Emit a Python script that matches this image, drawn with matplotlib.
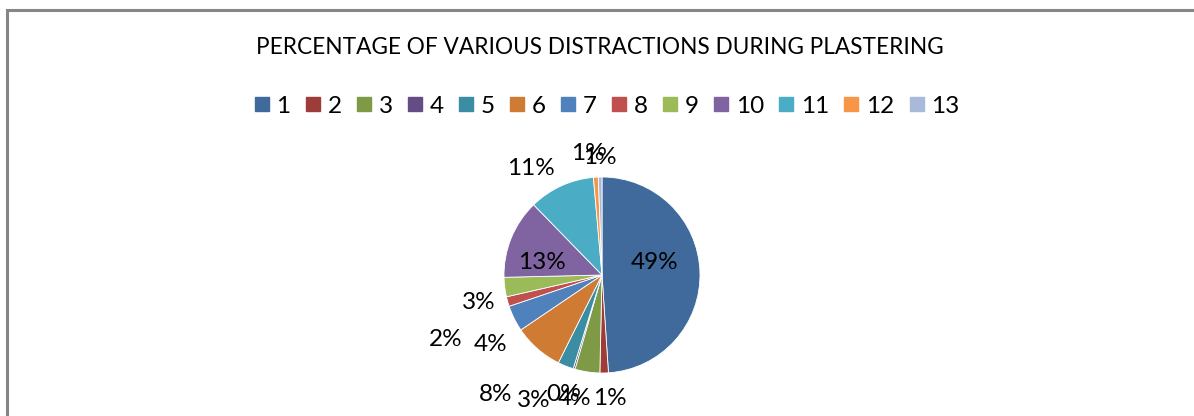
import matplotlib
matplotlib.use("Agg")
import matplotlib.pyplot as plt
from matplotlib.patches import Rectangle
from matplotlib.lines import Line2D

# ---- data ----
categories = ["1", "2", "3", "4", "5", "6", "7", "8", "9", "10", "11", "12", "13"]
values = [49.0, 1.4, 4.1, 0.3, 2.6, 8.2, 4.3, 1.6, 3.2, 13.1, 10.9, 0.8, 0.6]
colors = ["#3F6A9B", "#9E3C39", "#7F9A47", "#664C85", "#3A8DA3", "#CF7B34",
          "#4F81BD", "#C0504D", "#9BBB59", "#8064A2", "#4BACC6", "#F79646",
          "#A9B9D9"]
title = "PERCENTAGE OF VARIOUS DISTRACTIONS DURING PLASTERING"

# label positions (in pie-radius units, relative to pie centre), as placed in the source
label_offsets = [(0.54, 0.13), (0.08, -1.26), (-0.28, -1.26), (-0.40, -1.22),
                 (-0.70, -1.28), (-1.09, -1.22), (-1.14, -0.71), (-1.60, -0.66),
                 (-1.26, -0.28), (-0.61, 0.13), (-0.73, 1.09), (-0.14, 1.24),
                 (-0.02, 1.20)]

plt.rcParams['font.family'] = ['Lato', 'DejaVu Sans']

W, H = 1194, 416
fig = plt.figure(figsize=(W / 100, H / 100), dpi=100)

# chart border (cropped at right and bottom)
fig.patches.append(Rectangle((6.5 / W, -0.1), 1.2, (H - 9.5) / H + 0.1,
                             transform=fig.transFigure, fill=False,
                             edgecolor="#868686", linewidth=2.2))

fig.text(600 / W, 1 - 47 / H, title, ha="center", va="center",
         fontsize=16.3, color="#000000")

# pie axes: centre at (602, 275) px, radius 98 px
cx, cy, R = 602, 275, 98
half = 2 * R
ax = fig.add_axes([(cx - half) / W, (H - cy - half) / H, 2 * half / W, 2 * half / H])

wedges, texts, autotexts = ax.pie(values, colors=colors, startangle=90,
                                  counterclock=False, radius=1,
                                  autopct="%.0f%%", pctdistance=0.6,
                                  wedgeprops=dict(linewidth=0.6, edgecolor="white"),
                                  textprops=dict(fontsize=17.5, color="black"))
ax.set_xlim(-2, 2)
ax.set_ylim(-2, 2)
ax.set_aspect("equal")
ax.axis("off")
for t, (ox, oy) in zip(autotexts, label_offsets):
    t.set_position((ox, oy))
    t.set_ha("center")
    t.set_va("center")
    t.set_clip_on(False)

handles = [Line2D([], [], marker="s", linestyle="none", markersize=10.5,
                  markerfacecolor=c, markeredgecolor=c) for c in colors]
fig.legend(handles, categories, loc="center", bbox_to_anchor=(607 / W, 1 - 106 / H),
           ncol=len(categories), frameon=False, fontsize=17.5,
           handlelength=0.6, handletextpad=0.3, columnspacing=0.62,
           borderpad=0, borderaxespad=0)

fig.savefig("out.png", dpi=100)
